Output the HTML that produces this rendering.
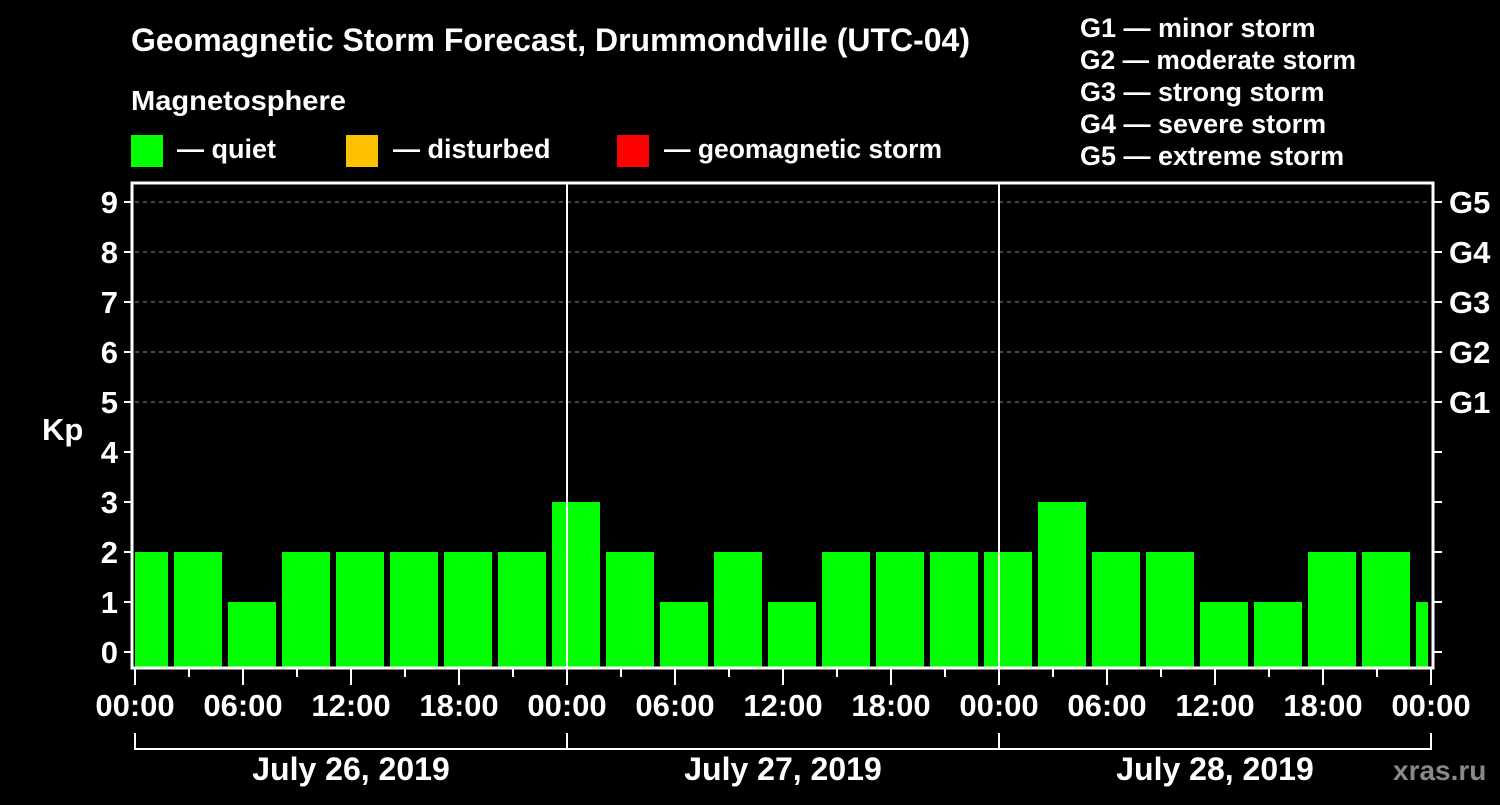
<!DOCTYPE html>
<html><head><meta charset="utf-8"><style>
html,body{margin:0;padding:0;background:#000;}
svg text{font-family:"Liberation Sans",sans-serif;font-weight:bold;fill:#fff;}
</style></head><body>
<svg id="chart" width="1500" height="800" xmlns="http://www.w3.org/2000/svg">
<defs><clipPath id="pc"><rect x="135" y="183" width="1293" height="485"/></clipPath></defs>
<text x="131" y="51" font-size="32" textLength="839" lengthAdjust="spacingAndGlyphs">Geomagnetic Storm Forecast, Drummondville (UTC-04)</text>
<text x="131" y="110" font-size="28" textLength="215" lengthAdjust="spacingAndGlyphs">Magnetosphere</text>
<rect x="131" y="135" width="32" height="32" fill="#00ff00"/>
<text x="177" y="158" font-size="27">— quiet</text>
<rect x="346" y="135" width="32" height="32" fill="#ffc000"/>
<text x="393" y="158" font-size="27">— disturbed</text>
<rect x="617" y="135" width="32" height="32" fill="#ff0000"/>
<text x="664" y="158" font-size="27" textLength="278" lengthAdjust="spacingAndGlyphs">— geomagnetic storm</text>
<g font-size="27">
<text x="1080" y="37">G1 — minor storm</text>
<text x="1080" y="69" textLength="276" lengthAdjust="spacingAndGlyphs">G2 — moderate storm</text>
<text x="1080" y="101">G3 — strong storm</text>
<text x="1080" y="133">G4 — severe storm</text>
<text x="1080" y="165">G5 — extreme storm</text>
</g>
<text x="42" y="440" font-size="31">Kp</text>
<text x="1393" y="780" font-size="28" style="fill:#888">xras.ru</text>
<g id="grid"></g><g id="bars" clip-path="url(#pc)"></g><g id="axes"></g>
</svg>
<script>
const kpValues=[2,2,1,2,2,2,2,2,3,2,1,2,1,2,2,2,2,3,2,2,1,1,2,2,1];
const yTicks=[0,1,2,3,4,5,6,7,8,9];
const gLabels=["G1","G2","G3","G4","G5"];
const xTickLabels=["00:00","06:00","12:00","18:00","00:00","06:00","12:00","18:00","00:00","06:00","12:00","18:00","00:00"];
const dayLabels=["July 26, 2019","July 27, 2019","July 28, 2019"];
const NS="http://www.w3.org/2000/svg";
const X0=135,PXH=18,Y0=652,PXK=50,BOT=668,TOP=183,RIGHT=1433;
const xs=h=>X0+h*PXH, ys=k=>Y0-k*PXK;
function mk(tag,attrs,parent,txt){const e=document.createElementNS(NS,tag);for(const k in attrs)e.setAttribute(k,attrs[k]);if(txt!=null)e.textContent=txt;parent.appendChild(e);return e;}
const grid=document.getElementById('grid'),bars=document.getElementById('bars'),axes=document.getElementById('axes');
for(let k=5;k<=9;k++){const l=mk('line',{x1:X0,x2:RIGHT,y1:ys(k),y2:ys(k),stroke:'#888','stroke-dasharray':'4,4','stroke-width':1},grid);

}
kpValues.forEach((v,i)=>{const c=xs(0.5+3*i);const r=mk('rect',{x:c-24,y:ys(v),width:48,height:BOT-ys(v),fill:v>=5?'#ff0000':(v>=4?'#ffc000':'#00ff00')},bars);

});
for(let d=1;d<=2;d++){const l=mk('line',{x1:xs(24*d),x2:xs(24*d),y1:TOP,y2:BOT,stroke:'#fff','stroke-width':2},axes);

}
const fr=mk('path',{d:`M${X0-3},${TOP} H${RIGHT} V${BOT} H${X0-3} Z`,fill:'none',stroke:'#fff','stroke-width':3},axes);


yTicks.forEach(k=>{mk('line',{x1:X0-11,x2:X0-3,y1:ys(k),y2:ys(k),stroke:'#fff','stroke-width':2},axes);
mk('line',{x1:RIGHT,x2:RIGHT+9,y1:ys(k),y2:ys(k),stroke:'#fff','stroke-width':2},axes);
const t=mk('text',{x:X0-17,y:ys(k)+11,'font-size':31,'text-anchor':'end'},axes,String(k));

});
gLabels.forEach((g,i)=>{const t=mk('text',{x:1449,y:ys(5+i)+11,'font-size':31},axes,g);

});
for(let h=0;h<=72;h+=3){const long=h%6===0;mk('line',{x1:xs(h),x2:xs(h),y1:BOT,y2:BOT+(long?17:9),stroke:'#fff','stroke-width':2},axes);}
xTickLabels.forEach((s,i)=>{const t=mk('text',{x:xs(6*i),y:716,'font-size':31,'text-anchor':'middle'},axes,s);

});
mk('line',{x1:X0,x2:xs(72),y1:749,y2:749,stroke:'#fff','stroke-width':2},axes);
for(let d=0;d<=3;d++)mk('line',{x1:xs(24*d),x2:xs(24*d),y1:733,y2:750,stroke:'#fff','stroke-width':2},axes);
dayLabels.forEach((s,i)=>{const t=mk('text',{x:xs(24*i+12),y:780,'font-size':32,'text-anchor':'middle'},axes,s);

});
</script>
</body></html>
